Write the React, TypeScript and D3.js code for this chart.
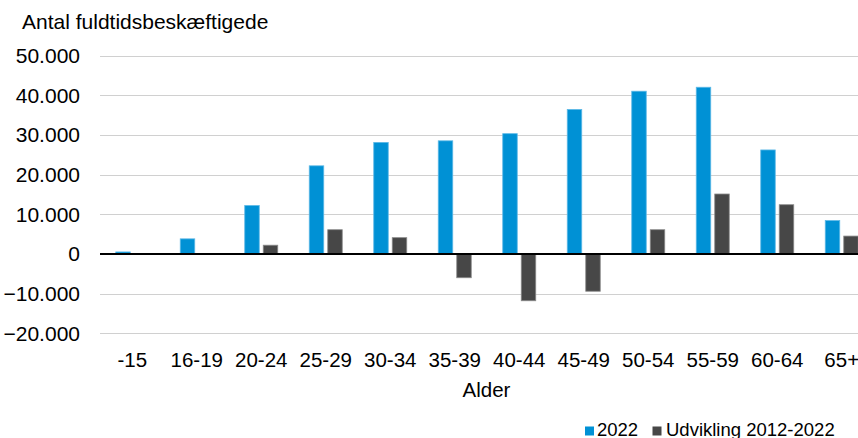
import React from "react";
import * as d3 from "d3";

const categories = ["-15", "16-19", "20-24", "25-29", "30-34", "35-39", "40-44", "45-49", "50-54", "55-59", "60-64", "65+"];
const values2022 = [500, 3800, 12200, 22200, 28100, 28500, 30300, 36400, 41000, 42000, 26200, 8400];
const valuesDev = [0, 0, 2200, 6100, 4100, -6000, -11800, -9400, 6100, 15100, 12400, 4500];
const yTicks = [-20000, -10000, 0, 10000, 20000, 30000, 40000, 50000];
const seriesNames = ["2022", "Udvikling 2012-2022"];
const colors = ["#0091d5", "#474747"];
const strokeColors = ["#5cb8e6", "#8a8a8a"];

const W = 858;
const H = 438;
const font = "'Liberation Sans', Arial, sans-serif";

export default function App() {
  const x = d3.scaleBand<string>().domain(categories).range([100, 874]).paddingInner(0).paddingOuter(0);
  const y = d3.scaleLinear().domain([-20000, 50000]).range([333.3, 55.5]);
  const bw = x.bandwidth();
  const barW = 14.5;
  const gap = 4;
  const fmt = (v: number) => d3.format(",")(v).replace(/,/g, ".");
  const series = [values2022, valuesDev];

  return (
    <svg width={W} height={H} style={{ position: "absolute", left: 0, top: 0, background: "#fff" }}>
      <text x={22} y={29} fontFamily={font} fontSize={21} fill="#000">Antal fuldtidsbeskæftigede</text>
      {yTicks.map((t) => (
        <g key={t}>
          {t !== 0 && <line x1={100} x2={W} y1={Math.round(y(t)) + 0.5} y2={Math.round(y(t)) + 0.5} stroke="#d0d0d0" strokeWidth={1.2} />}
          <text x={80} y={y(t) + 7.5} textAnchor="end" fontFamily={font} fontSize={21} fill="#000">{fmt(t)}</text>
        </g>
      ))}
      {series.map((vals, si) =>
        vals.map((v, i) => {
          if (v === 0) return null;
          const cx = (x(categories[i]) as number) + bw / 2;
          const x0 = si === 0 ? cx - gap / 2 - barW : cx + gap / 2;
          const yt = Math.min(y(v), y(0));
          const h = Math.abs(y(v) - y(0));
          return (
            <rect key={`${si}-${i}`} x={x0} y={yt} width={barW} height={h} fill={colors[si]} stroke={strokeColors[si]} strokeWidth={0.8} />
          );
        })
      )}
      <line x1={100} x2={W} y1={y(0)} y2={y(0)} stroke="#000" strokeWidth={2} />
      {categories.map((c) => (
        <text key={c} x={(x(c) as number) + bw / 2} y={366.5} textAnchor="middle" fontFamily={font} fontSize={20.5} fill="#000">{c}</text>
      ))}
      <text x={486.5} y={397.3} textAnchor="middle" fontFamily={font} fontSize={20.5} fill="#000">Alder</text>
      <rect x={585} y={426.5} width={9} height={9} fill={colors[0]} />
      <text x={597} y={435.5} fontFamily={font} fontSize={18.5} fill="#000">{seriesNames[0]}</text>
      <rect x={652.5} y={426.5} width={9} height={9} fill={colors[1]} />
      <text x={666} y={435.5} fontFamily={font} fontSize={18.5} fill="#000">{seriesNames[1]}</text>
    </svg>
  );
}
